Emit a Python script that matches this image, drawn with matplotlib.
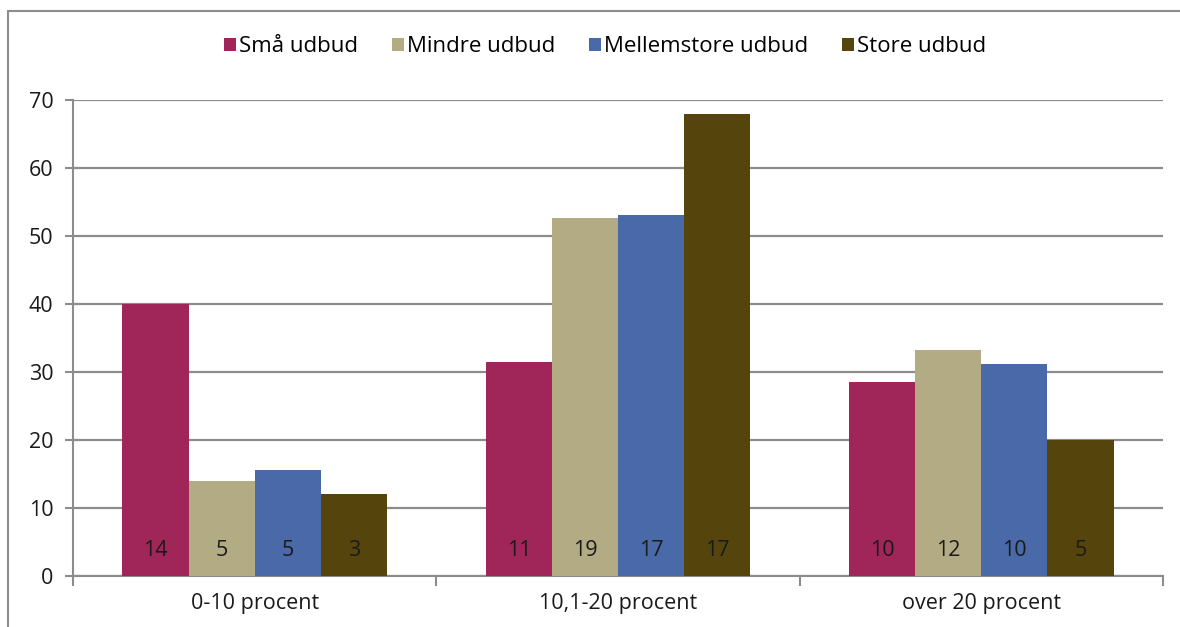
import matplotlib
matplotlib.use('Agg')
import matplotlib.pyplot as plt
import numpy as np
from matplotlib.patches import Rectangle

# Share of tenders per price-difference interval (percent), with counts
categories = ['0-10 procent', '10,1-20 procent', 'over 20 procent']
series = ['Små udbud', 'Mindre udbud', 'Mellemstore udbud', 'Store udbud']
smaa = [40.0, 31.5, 28.5]
mindre = [13.9, 52.7, 33.3]
mellem = [15.6, 53.1, 31.2]
store = [12.0, 68.0, 20.0]
counts_smaa = [14, 11, 10]
counts_mindre = [5, 19, 12]
counts_mellem = [5, 17, 10]
counts_store = [3, 17, 5]

values = [smaa, mindre, mellem, store]
counts = [counts_smaa, counts_mindre, counts_mellem, counts_store]
colors = ['#A0265A', '#B3AB84', '#4A69A8', '#55450D']

plt.rcParams['font.family'] = ['Open Sans', 'DejaVu Sans']

fig = plt.figure(figsize=(11.8, 6.27), dpi=100)
ax = fig.add_axes([73/1180, 1 - 576/627, (1163 - 73)/1180, (576 - 100)/627])

# outer chart frame (top and left visible)
fig.patches.append(Rectangle((8/1180, -0.1), 1.2, 1 - 11/627 + 0.1,
                             transform=fig.transFigure, fill=False,
                             edgecolor='#8c8c8c', linewidth=1.5))

x = np.arange(len(categories))
width = 0.182
for i, (vals, cnts, col, name) in enumerate(zip(values, counts, colors, series)):
    pos = x + (i - 1.5) * width
    ax.bar(pos, vals, width, color=col, label=name, zorder=3)
    for p, c in zip(pos, cnts):
        ax.text(p, 3.8, str(c), ha='center', va='center', fontsize=15.5, color='#1a1a1a', zorder=4)

ax.set_xlim(-0.5, 2.5)
ax.set_ylim(0, 70)
ax.set_yticks(np.arange(0, 71, 10))
ax.set_xticks(x)
ax.set_xticklabels(categories, fontsize=15.5, color='#1a1a1a')
ax.tick_params(axis='y', labelsize=15.5, labelcolor='#1a1a1a', length=6, width=1.5, color='#8c8c8c', pad=8)
ax.tick_params(axis='x', length=0, pad=12)
# minor ticks on category boundaries
ax.set_xticks([-0.5, 0.5, 1.5, 2.5], minor=True)
ax.tick_params(axis='x', which='minor', length=7, width=1.5, color='#8c8c8c')

ax.grid(axis='y', color='#8c8c8c', linewidth=1.6, zorder=0)
for s in ['top', 'right']:
    ax.spines[s].set_visible(False)
for s in ['left', 'bottom']:
    ax.spines[s].set_color('#8c8c8c')
    ax.spines[s].set_linewidth(1.5)

fig.legend(loc='center', bbox_to_anchor=(605/1180, 1 - 47/627), ncol=4, frameon=False,
           fontsize=16, handlelength=0.55, handleheight=0.55, handletextpad=0.15,
           columnspacing=1.5)

plt.savefig('out.png', dpi=100)
